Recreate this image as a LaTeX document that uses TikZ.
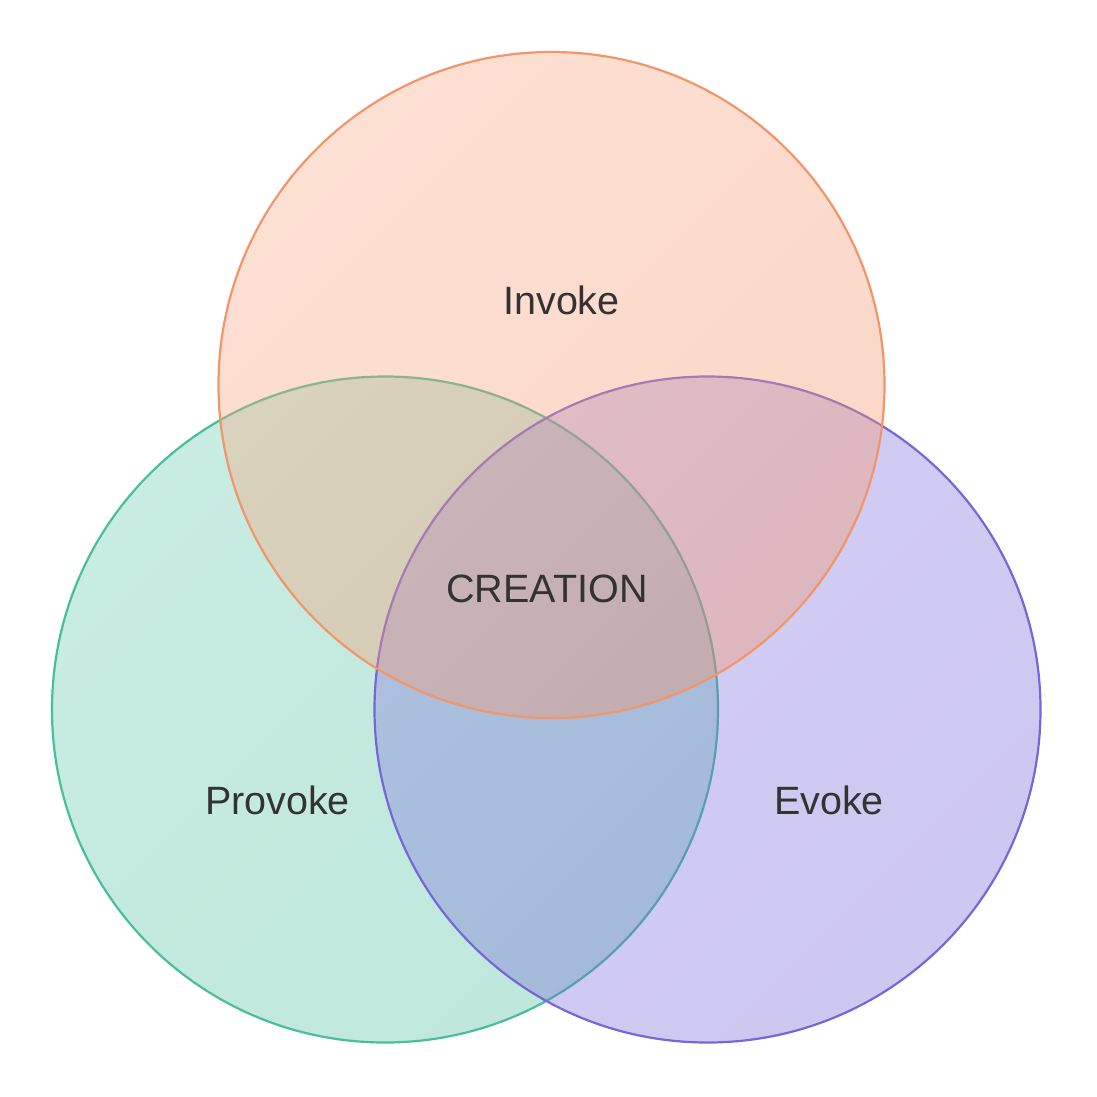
\documentclass[tikz,border=0pt]{standalone}
\usepackage{fontspec}
\setmainfont{Liberation Sans}
\definecolor{invokeline}{RGB}{240,150,106}
\definecolor{invoketop}{RGB}{248,172,136}
\definecolor{invokebottom}{RGB}{246,148,104}
\definecolor{provokeline}{RGB}{74,190,152}
\definecolor{provoketop}{RGB}{98,202,172}
\definecolor{provokebottom}{RGB}{74,188,155}
\definecolor{evokeline}{RGB}{120,102,216}
\definecolor{evoketop}{RGB}{128,112,222}
\definecolor{evokebottom}{RGB}{110,94,214}
\definecolor{labeltext}{RGB}{51,51,51}
\begin{document}
\begin{tikzpicture}[x=1pt,y=-1pt,
  setcircle/.style={circle, minimum size=666pt, inner sep=0pt, line width=2.2pt, fill opacity=0.35, draw opacity=1},
  setshade/.style 2 args={shading=axis, top color=#1, bottom color=#2, shading angle=45},
  setlabel/.style={anchor=base, text=labeltext, font=\fontsize{39.5}{42}\selectfont, inner sep=0pt}]
  \useasboundingbox[fill=white] (0,0) rectangle (1096,1097);
  % the three sets, drawn back to front
  \node[setcircle, draw=provokeline, setshade={provoketop}{provokebottom}] (provoke) at (385,709.5) {};
  \node[setcircle, draw=evokeline, setshade={evoketop}{evokebottom}, fill opacity=0.34] (evoke) at (707.5,709.5) {};
  \node[setcircle, draw=invokeline, setshade={invoketop}{invokebottom}, fill opacity=0.37] (invoke) at (551.5,385) {};
  % labels
  \node[setlabel] (invokelabel) at (561.5,314) {Invoke};
  \node[setlabel] (provokelabel) at (277.5,814) {Provoke};
  \node[setlabel] (evokelabel) at (829,814) {Evoke};
  \node[setlabel] (creation) at (547,602) {CREATION};
\end{tikzpicture}
\end{document}
